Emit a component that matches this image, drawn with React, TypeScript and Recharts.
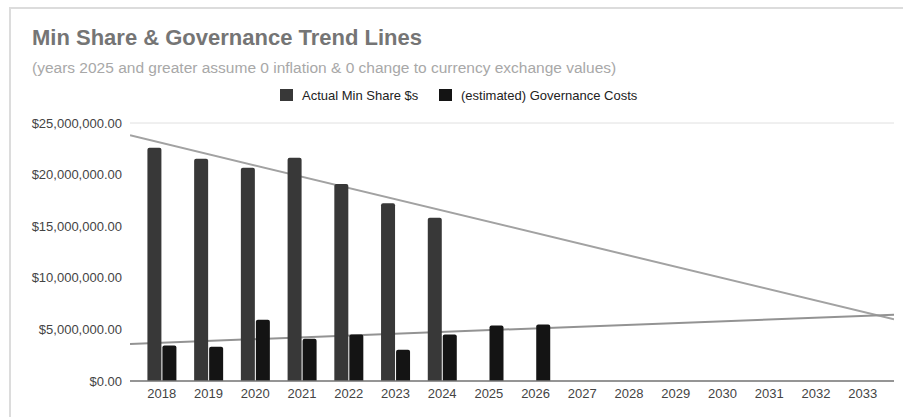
import React from 'react';
import { ComposedChart, Bar, Line, XAxis, YAxis, CartesianGrid } from 'recharts';

const years = [2018, 2019, 2020, 2021, 2022, 2023, 2024, 2025, 2026, 2027, 2028, 2029, 2030, 2031, 2032, 2033];
const minShare: (number | null)[] = [22.6e6, 21.53e6, 20.66e6, 21.63e6, 19.1e6, 17.23e6, 15.81e6, null, null, null, null, null, null, null, null, null];
const govCosts: (number | null)[] = [3.44e6, 3.31e6, 5.93e6, 4.09e6, 4.5e6, 3.02e6, 4.5e6, 5.38e6, 5.47e6, null, null, null, null, null, null, null];
const yTicks = [0, 5e6, 10e6, 15e6, 20e6, 25e6];
const xDomain: [number, number] = [2017.32, 2033.67];

const seriesNames = ['Actual Min Share $s', '(estimated) Governance Costs'];
const seriesColors = ['#383838', '#141414'];

const data = years.map((y, i) => ({ year: y, minShare: minShare[i], gov: govCosts[i] }));

function trend(vals: (number | null)[]) {
  const pts = years.map((y, i) => [y, vals[i]] as [number, number | null]).filter((p) => p[1] != null) as [number, number][];
  const n = pts.length;
  const mx = pts.reduce((s, p) => s + p[0], 0) / n;
  const my = pts.reduce((s, p) => s + p[1], 0) / n;
  let sxy = 0, sxx = 0;
  pts.forEach(([x, y]) => { sxy += (x - mx) * (y - my); sxx += (x - mx) * (x - mx); });
  const slope = sxy / sxx;
  return xDomain.map((x) => ({ year: x, v: my + slope * (x - mx) }));
}

const minTrend = trend(minShare);
const govTrend = trend(govCosts);

const fmt = (v: number) => '$' + v.toLocaleString('en-US', { minimumFractionDigits: 2, maximumFractionDigits: 2 });

const FONT = '"Liberation Sans", Arial, sans-serif';
const MARGIN = { top: 123, right: 9, left: 0, bottom: 0 };

export default function App() {
  return (
    <div style={{ position: 'absolute', left: 0, top: 0, width: 903, height: 417, background: '#fff', overflow: 'hidden', fontFamily: FONT }}>
      <div style={{ position: 'absolute', left: 9, top: 7, width: 900, height: 420, borderTop: '2px solid #dcdcdc', borderLeft: '2px solid #dcdcdc' }} />
      <div style={{ position: 'absolute', left: 32, top: 27, fontSize: 22, lineHeight: '22px', fontWeight: 'bold', color: '#757575', whiteSpace: 'nowrap' }}>
        Min Share &amp; Governance Trend Lines
      </div>
      <div style={{ position: 'absolute', left: 32, top: 60, fontSize: 15.5, lineHeight: '15.5px', color: '#a8a8a8', whiteSpace: 'nowrap' }}>
        (years 2025 and greater assume 0 inflation &amp; 0 change to currency exchange values)
      </div>
      <div style={{ position: 'absolute', left: 280, top: 89, width: 13, height: 12, background: seriesColors[0] }} />
      <div style={{ position: 'absolute', left: 302, top: 89, fontSize: 13, lineHeight: '13px', color: '#222', whiteSpace: 'nowrap' }}>{seriesNames[0]}</div>
      <div style={{ position: 'absolute', left: 439, top: 89, width: 13, height: 12, background: seriesColors[1] }} />
      <div style={{ position: 'absolute', left: 461, top: 89, fontSize: 13, lineHeight: '13px', color: '#222', whiteSpace: 'nowrap' }}>{seriesNames[1]}</div>

      {/* under-layer: grid and trend lines (drawn behind the bars) */}
      <div style={{ position: 'absolute', left: 0, top: 0 }}>
        <ComposedChart width={903} height={417} data={data} margin={MARGIN}>
          <CartesianGrid vertical={false} stroke="#e0e0e0" />
          <XAxis dataKey="year" type="number" domain={xDomain} allowDataOverflow ticks={years} interval={0} height={36} tickLine={false} axisLine={false} tick={false} />
          <YAxis type="number" domain={[0, 25e6]} ticks={yTicks} interval={0} width={130} tickLine={false} axisLine={false} tick={false} />
          <Line data={minTrend} dataKey="v" type="linear" stroke="#a2a2a2" strokeWidth={2} dot={false} activeDot={false} isAnimationActive={false} legendType="none" />
          <Line data={govTrend} dataKey="v" type="linear" stroke="#939393" strokeWidth={2} dot={false} activeDot={false} isAnimationActive={false} legendType="none" />
        </ComposedChart>
      </div>

      {/* top layer: bars and axes */}
      <div style={{ position: 'absolute', left: 0, top: 0 }}>
        <ComposedChart width={903} height={417} data={data} margin={MARGIN} barGap={1} style={{ fontFamily: FONT }}>
          <XAxis
            dataKey="year"
            type="number"
            domain={xDomain}
            allowDataOverflow
            ticks={years}
            interval={0}
            height={36}
            tickLine={false}
            axisLine={{ stroke: '#777', strokeWidth: 1.5 }}
            tick={{ fill: '#444', fontSize: 13, fontFamily: FONT }}
          />
          <YAxis
            type="number"
            domain={[0, 25e6]}
            ticks={yTicks}
            interval={0}
            width={130}
            tickLine={false}
            axisLine={false}
            tickFormatter={fmt}
            tick={{ fill: '#444', fontSize: 13, fontFamily: FONT }}
          />
          <Bar dataKey="minShare" name={seriesNames[0]} fill={seriesColors[0]} barSize={14} radius={[2, 2, 0, 0]} isAnimationActive={false} />
          <Bar dataKey="gov" name={seriesNames[1]} fill={seriesColors[1]} barSize={14} radius={[2, 2, 0, 0]} isAnimationActive={false} />
        </ComposedChart>
      </div>
    </div>
  );
}
